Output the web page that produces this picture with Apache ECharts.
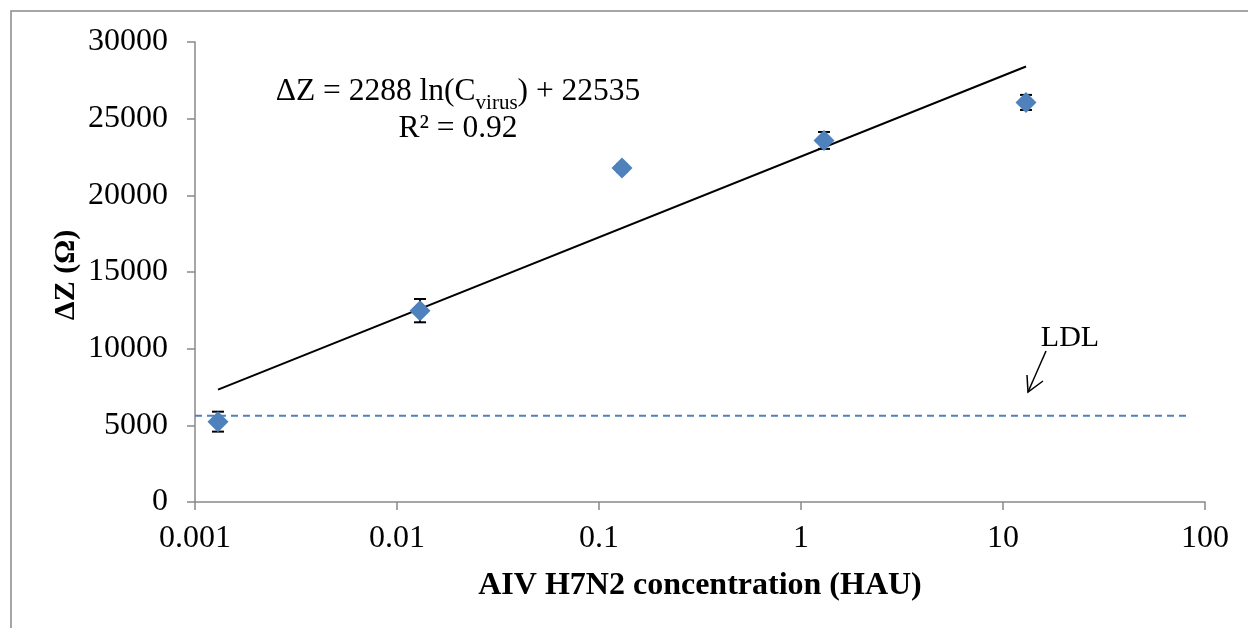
<!DOCTYPE html>
<html><head><meta charset="utf-8">
<script src="https://cdn.jsdelivr.net/npm/echarts@6/dist/echarts.min.js"></script>
<style>html,body{margin:0;padding:0;background:#fff}#c{width:1248px;height:628px}</style>
</head><body><div id="c"></div>
<script>
// Data
const concentrations = [0.0013, 0.013, 0.13, 1.3, 13];
const deltaZ = [5240, 12480, 21780, 23580, 26060];
const errors = [650, 760, 250, 550, 490];
const fitSlope = 2288, fitIntercept = 22535;
const ldlValue = 5630;
const ldlRange = [0.001, 85];
const yTicks = [0, 5000, 10000, 15000, 20000, 25000, 30000];

const FONT = '"Liberation Serif", "Times New Roman", serif';
const blue = '#4F81BD';

const points = concentrations.map((c, i) => [c, deltaZ[i]]);
const errData = concentrations.map((c, i) => [c, deltaZ[i], errors[i]]);
const fitX = [concentrations[0], concentrations[concentrations.length - 1]];
const fitLine = fitX.map(x => [x, fitSlope * Math.log(x) + fitIntercept]);
const ldlLine = ldlRange.map(x => [x, ldlValue]);

const chart = echarts.init(document.getElementById('c'), null, {renderer: 'canvas'});
chart.setOption({
  animation: false,
  grid: {left: 195, right: 43, top: 42, bottom: 126},
  xAxis: {
    type: 'log', logBase: 10, min: 0.001, max: 100,
    axisLine: {show: true, lineStyle: {color: '#898989', width: 1.5}},
    axisTick: {show: true, inside: false, length: 8, lineStyle: {color: '#898989', width: 1.5}},
    minorTick: {show: false},
    splitLine: {show: false},
    axisLabel: {color: '#000', fontFamily: FONT, fontSize: 32, margin: 21,
      formatter: v => String(parseFloat(Number(v).toPrecision(3)))},
    name: 'AIV H7N2 concentration (HAU)', nameLocation: 'middle', nameGap: 68,
    nameTextStyle: {color: '#000', fontFamily: FONT, fontSize: 32, fontWeight: 'bold'}
  },
  yAxis: {
    type: 'value', min: yTicks[0], max: yTicks[yTicks.length - 1], interval: yTicks[1] - yTicks[0],
    axisLine: {show: true, lineStyle: {color: '#898989', width: 1.5}},
    axisTick: {show: true, length: 8, lineStyle: {color: '#898989', width: 1.5}},
    splitLine: {show: false},
    axisLabel: {color: '#000', fontFamily: FONT, fontSize: 32, margin: 27,
      formatter: v => String(v)}
  },
  series: [
    {
      type: 'line', data: ldlLine, symbol: 'none', silent: true,
      lineStyle: {color: blue, width: 2, type: [7, 5]}, z: 1
    },
    {
      type: 'line', data: fitLine, symbol: 'none', silent: true,
      lineStyle: {color: '#000', width: 2}, z: 2
    },
    {
      type: 'custom', data: errData, z: 3,
      renderItem: (params, api) => {
        const x = api.value(0), y = api.value(1), e = api.value(2);
        const top = api.coord([x, y + e]);
        const bot = api.coord([x, y - e]);
        const w = 6;
        const s = {stroke: '#000', lineWidth: 2};
        return {type: 'group', children: [
          {type: 'line', shape: {x1: top[0], y1: top[1], x2: bot[0], y2: bot[1]}, style: s},
          {type: 'line', shape: {x1: top[0] - w, y1: top[1], x2: top[0] + w, y2: top[1]}, style: s},
          {type: 'line', shape: {x1: bot[0] - w, y1: bot[1], x2: bot[0] + w, y2: bot[1]}, style: s}
        ]};
      }
    },
    {
      type: 'scatter', data: points, symbol: 'diamond', symbolSize: [21, 21],
      itemStyle: {color: blue, opacity: 1}, z: 4
    }
  ],
  graphic: [
    {type: 'rect', shape: {x: 11, y: 11, width: 1400, height: 800},
      style: {fill: 'none', stroke: '#898989', lineWidth: 1.5}, silent: true, z: -10},
    {type: 'text', rotation: Math.PI / 2, x: 66, y: 275, z: 10,
      style: {text: 'ΔZ (Ω)', font: 'bold 30px ' + FONT, fill: '#000', align: 'center', verticalAlign: 'middle'}},
    {type: 'text', x: 458, y: 92, z: 10,
      style: {
        text: '{n|ΔZ = 2288 ln(C}{s|virus}{n|) + 22535}',
        align: 'center', verticalAlign: 'middle',
        rich: {
          n: {font: '31.5px ' + FONT, fill: '#000', verticalAlign: 'bottom', lineHeight: 32},
          s: {font: '21px ' + FONT, fill: '#000', verticalAlign: 'bottom', lineHeight: 22, padding: [0, 0, -6, 0]}
        }
      }},
    {type: 'text', x: 458, y: 129, z: 10,
      style: {text: 'R² = 0.92', font: '31.5px ' + FONT, fill: '#000', align: 'center', verticalAlign: 'middle'}},
    {type: 'text', x: 1070, y: 338, z: 10,
      style: {text: 'LDL', font: '30px ' + FONT, fill: '#000', align: 'center', verticalAlign: 'middle'}},
    {type: 'polyline', z: 10, shape: {points: [[1046, 351], [1028, 392]]}, style: {stroke: '#000', lineWidth: 1.5, fill: 'none'}},
    {type: 'polyline', z: 10, shape: {points: [[1027, 375], [1028, 392], [1043, 381]]}, style: {stroke: '#000', lineWidth: 1.5, fill: 'none'}}
  ]
});
</script></body></html>
